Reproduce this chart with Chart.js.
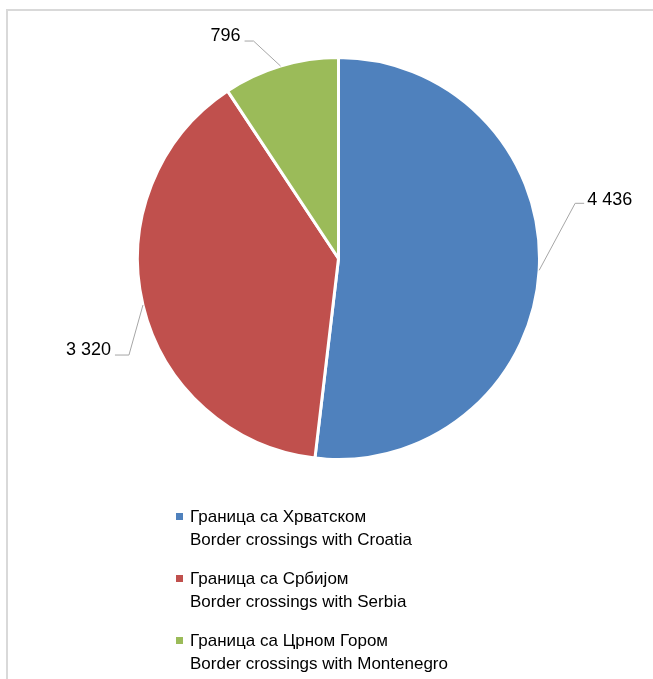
<!DOCTYPE html>
<html><head><meta charset="utf-8">
<script src="https://cdn.jsdelivr.net/npm/chart.js@4/dist/chart.umd.min.js"></script>
<style>
html,body{margin:0;padding:0;background:#fff;}
#wrap{position:relative;width:653px;height:679px;overflow:hidden;}
#frame{position:absolute;left:6px;top:9px;width:660px;height:700px;border:2px solid #d9d9d9;box-sizing:border-box;}
#c{position:absolute;left:0;top:0;}
#legend{position:absolute;left:176px;top:505px;font-family:"Liberation Sans",Arial,sans-serif;font-size:17px;color:#000;}
.item{position:relative;padding-left:14px;line-height:23px;margin-bottom:16px;}
.sw{position:absolute;left:0;top:8px;width:7px;height:7px;}
</style></head>
<body><div id="wrap"><div id="frame"></div><canvas id="c" width="653" height="679"></canvas><div id="legend"></div></div>
<script>
const categoriesSr = ["Граница са Хрватском", "Граница са Србијом", "Граница са Црном Гором"];
const categoriesEn = ["Border crossings with Croatia", "Border crossings with Serbia", "Border crossings with Montenegro"];
const values = [4436, 3320, 796];
const valueLabels = ["4 436", "3 320", "796"];
const colors = ["#4F81BD", "#C0504D", "#9BBB59"];

// leader geometry relative to slice edge midpoint: [elbow dx, elbow dy, horizontal length]
const leaders = [[36, -67, 9], [-14, 50, -14], [-27, -25, -9]];

const labelPlugin = {
  id: 'pieLabels',
  afterDatasetsDraw(chart) {
    const ctx = chart.ctx;
    const meta = chart.getDatasetMeta(0);
    ctx.save();
    ctx.font = '18px "Liberation Sans", Arial, sans-serif';
    ctx.fillStyle = '#000';
    ctx.strokeStyle = '#a6a6a6';
    ctx.lineWidth = 1;
    meta.data.forEach((arc, i) => {
      const p = arc.getProps(['x','y','startAngle','endAngle','outerRadius'], true);
      const mid = (p.startAngle + p.endAngle) / 2;
      const sx = p.x + Math.cos(mid) * p.outerRadius;
      const sy = p.y + Math.sin(mid) * p.outerRadius;
      const [ex, ey, hl] = leaders[i];
      const x1 = sx + ex, y1 = sy + ey, x2 = x1 + hl;
      ctx.beginPath();
      ctx.moveTo(sx, sy); ctx.lineTo(x1, y1); ctx.lineTo(x2, y1);
      ctx.stroke();
      ctx.textBaseline = 'middle';
      if (hl > 0) { ctx.textAlign = 'left'; ctx.fillText(valueLabels[i], x2 + 3, y1 - 3); }
      else { ctx.textAlign = 'right'; ctx.fillText(valueLabels[i], x2 - 4, y1 - 5); }
    });
    ctx.restore();
  }
};

new Chart(document.getElementById('c'), {
  type: 'pie',
  data: {
    labels: categoriesEn,
    datasets: [{ data: values, backgroundColor: colors, borderColor: '#ffffff', borderWidth: 3 }]
  },
  options: {
    responsive: false,
    animation: false,
    layout: { padding: { top: 55, bottom: 217, left: 136, right: 112 } },
    plugins: { legend: { display: false }, tooltip: { enabled: false } }
  },
  plugins: [labelPlugin]
});

const lg = document.getElementById('legend');
categoriesSr.forEach((s, i) => {
  const d = document.createElement('div');
  d.className = 'item';
  d.innerHTML = '<span class="sw" style="background:' + colors[i] + '"></span>' + s + '<br>' + categoriesEn[i];
  lg.appendChild(d);
});
</script></body></html>
